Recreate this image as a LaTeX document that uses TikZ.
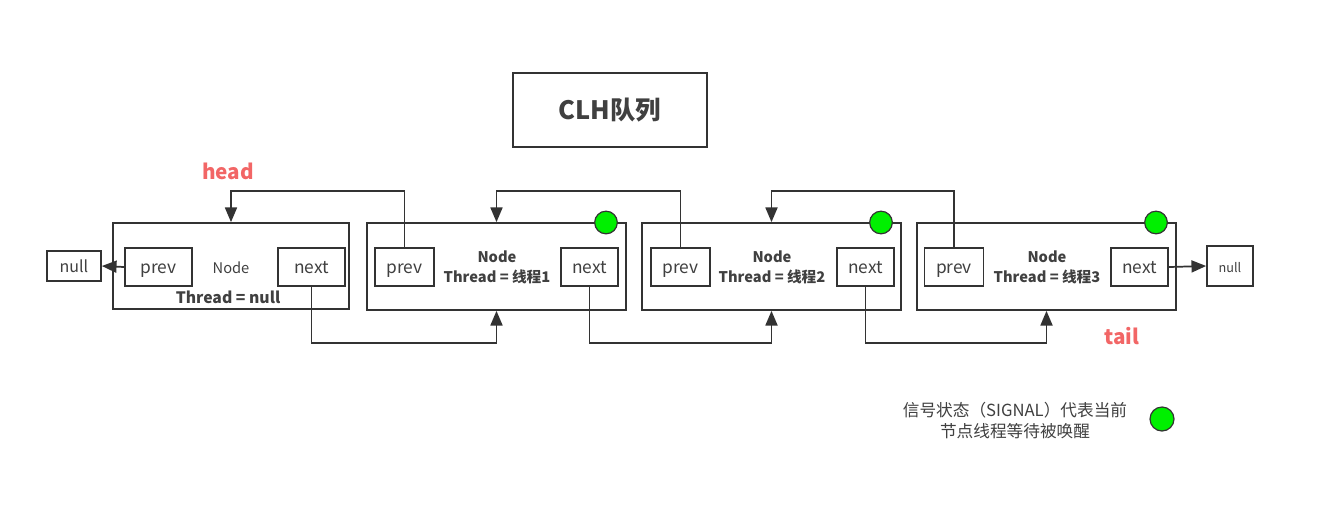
\documentclass[tikz,border=0pt]{standalone}
\usepackage{fontspec}
\setmainfont{Noto Sans CJK SC}
\usetikzlibrary{arrows.meta}
\definecolor{ink}{HTML}{333333}
\definecolor{txt}{HTML}{404040}
\definecolor{headred}{HTML}{F26666}
\definecolor{sig}{HTML}{00F000}
\tikzset{
  box/.style={draw=ink, line width=1.3pt, inner sep=0pt, text=txt},
  xcen/.style={text height=1.0em, text depth=0.1em},
  fld/.style={box, xcen, minimum height=28.5pt, font=\fontsize{13}{15}\selectfont},
  lbl/.style={inner sep=0pt, text=txt},
  arr/.style={draw=ink, line width=1.3pt, -{Triangle[length=11pt,width=9pt]}},
  signal/.style={circle, draw=ink, line width=0.9pt, fill=sig, minimum size=17pt, inner sep=0pt},
  redlbl/.style={inner sep=0pt, text=headred, font=\bfseries\fontsize{15.5}{17}\selectfont},
}
\begin{document}
\begin{tikzpicture}[x=0.75pt, y=-0.75pt]
\useasboundingbox[fill=white] (0,0) rectangle (1339,526);
% title
\node[box, minimum width=145.5pt, minimum height=55.5pt, font=\bfseries\fontsize{19}{21}\selectfont] (title) at (610,110) {CLH队列};
% outer node boxes
\node[box, minimum width=177pt, minimum height=64.5pt] (n0) at (231,266) {};
\node[box, minimum width=194.25pt, minimum height=65.25pt] (n1) at (496.5,266.5) {};
\node[box, minimum width=194.25pt, minimum height=65.25pt] (n2) at (771.5,266.5) {};
\node[box, minimum width=194.25pt, minimum height=65.25pt] (n3) at (1046.5,266.5) {};
% fields
\node[fld, minimum width=50.25pt] (p0) at (158.5,267) {prev};
\node[fld, minimum width=50.25pt] (x0) at (311.5,267) {next};
\node[fld, minimum width=44.25pt] (p1) at (404.5,267) {prev};
\node[fld, minimum width=43pt] (x1) at (589.5,267) {next};
\node[fld, minimum width=44.25pt] (p2) at (680.5,267) {prev};
\node[fld, minimum width=43pt] (x2) at (865.5,267) {next};
\node[fld, minimum width=44.25pt] (p3) at (954,267) {prev};
\node[fld, minimum width=43pt] (x3) at (1139.5,267) {next};
% null boxes
\node[box, xcen, minimum width=40.5pt, minimum height=22.5pt, font=\fontsize{12}{14}\selectfont] (nullL) at (74,266) {null};
\node[box, xcen, minimum width=34.5pt, minimum height=30pt, font=\fontsize{9.5}{11}\selectfont] (nullR) at (1230,266) {null};
% labels
\node[lbl, xcen, font=\fontsize{11}{13}\selectfont] (t0a) at (231,267) {Node};
\node[lbl, font=\bfseries\fontsize{11.8}{13}\selectfont] (t0b) at (228,297) {Thread = null};
\node[lbl, font=\bfseries\fontsize{11}{14.5}\selectfont, align=center] (t1) at (497,267.5) {Node\\Thread = 线程1};
\node[lbl, font=\bfseries\fontsize{11}{14.5}\selectfont, align=center] (t2) at (772,267.5) {Node\\Thread = 线程2};
\node[lbl, font=\bfseries\fontsize{11}{14.5}\selectfont, align=center] (t3) at (1047,267.5) {Node\\Thread = 线程3};
% signal circles
\node[signal] (s1) at (606,222.5) {};
\node[signal] (s2) at (881,222.5) {};
\node[signal] (s3) at (1156,222.5) {};
% head / tail
\node[redlbl] (head) at (228,171) {head};
\node[redlbl] (tail) at (1122,336) {tail};
% prev links (top)
\draw[arr] (p1.north) -- ++(0,-56) -| (n0.north);
\draw[arr] (p2.north) -- ++(0,-56) -| (n1.north);
\draw[arr] (p3.north) -- ++(0,-56) -| (n2.north);
% next links (bottom)
\draw[arr] (x0.south) -- ++(0,56) -| (n1.south);
\draw[arr] (x1.south) -- ++(0,56) -| (n2.south);
\draw[arr] (x2.south) -- ++(0,56) -| (n3.south);
% null links
\draw[arr] (p0.west) -- (nullL.east);
\draw[arr] (x3.east) -- (nullR.west);
% legend
\node[lbl, font=\fontsize{12.5}{15.75}\selectfont, align=center] (legend) at (1015,420.5) {信号状态（SIGNAL）代表当前\\节点线程等待被唤醒};
\node[signal, minimum size=18pt] (slegend) at (1162,419) {};
\end{tikzpicture}
\end{document}
